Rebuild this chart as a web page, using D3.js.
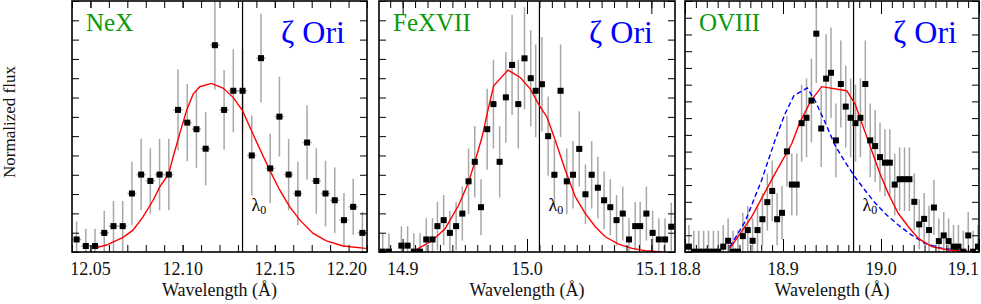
<!DOCTYPE html>
<html>
<head>
<meta charset="utf-8">
<script src="https://cdn.jsdelivr.net/npm/d3@7"></script>
<style>
  html, body { margin: 0; padding: 0; background: #fff; }
  svg text { font-family: "Liberation Serif", "DejaVu Serif", "Times New Roman", serif; }
</style>
</head>
<body>
<svg id="chart" width="981" height="304"></svg>
<script>
// ---- NeX panel ----
const neWave = [12.0425, 12.0475, 12.0525, 12.0575, 12.0625, 12.0675, 12.0725, 12.0775, 12.0825, 12.0875,
  12.0925, 12.0975, 12.1025, 12.1075, 12.1125, 12.1175, 12.1225, 12.1275, 12.1325, 12.1375,
  12.1425, 12.1475, 12.1525, 12.1575, 12.1625, 12.1675, 12.1725, 12.1775, 12.1825, 12.1875,
  12.1925, 12.1975];
const neFlux = [0.65, 0.31, 0.31, 0.99, 1.34, 1.34, 3.03, 4.01, 3.68, 4.01,
  4.01, 7.36, 6.70, 6.36, 5.35, 10.71, 7.36, 8.35, 8.35, 5.00,
  10.04, 4.33, 7.01, 4.01, 3.03, 5.67, 3.68, 3.03, 2.68, 1.65,
  2.34, 0.99];
const neErr = [0.93, 0.9, 0.9, 1.14, 1.3, 1.3, 1.64, 1.85, 1.7, 1.85,
  1.85, 2.1, 2.0, 2.0, 1.9, 2.3, 2.07, 2.15, 2.15, 2.07,
  2.3, 1.8, 2.07, 1.85, 1.64, 1.93, 1.7, 1.7, 1.7, 1.4,
  1.45, 1.1];
const neModelWave = [12.0518, 12.0587, 12.0677, 12.0731, 12.0785, 12.0840, 12.0876, 12.0925, 12.0948, 12.0984,
  12.1021, 12.1057, 12.1093, 12.1156, 12.1219, 12.1274, 12.1325, 12.1373, 12.1418, 12.1473,
  12.1527, 12.1581, 12.1636, 12.1708, 12.1780, 12.1870, 12.1994];
const neModelFlux = [0.19, 0.36, 0.76, 1.13, 1.82, 2.68, 3.37, 4.06, 4.91, 6.12,
  7.32, 8.18, 8.56, 8.73, 8.49, 8.01, 7.32, 6.29, 5.35, 4.23,
  3.20, 2.34, 1.65, 0.96, 0.58, 0.31, 0.19];
const neXTicks = [12.05, 12.10, 12.15, 12.20];
const neXLabels = ['12.05', '12.10', '12.15', '12.20'];

// ---- FeXVII panel ----
const feWave = [14.884, 14.889, 14.899, 14.904, 14.909, 14.914, 14.919, 14.924, 14.928, 14.933,
  14.938, 14.943, 14.948, 14.953, 14.958, 14.963, 14.968, 14.973, 14.978, 14.983,
  14.988, 14.993, 14.998, 15.003, 15.007, 15.012, 15.017, 15.022, 15.027, 15.032,
  15.037, 15.042, 15.047, 15.052, 15.057, 15.062, 15.067, 15.072, 15.077, 15.082,
  15.087, 15.091, 15.096, 15.101, 15.106, 15.111, 15.116];
const feFlux = [0.02, 0.02, 0.33, 0.33, 0.02, 0.02, 0.65, 0.65, 1.34, 1.65,
  0.99, 1.34, 1.99, 3.66, 4.67, 2.32, 6.36, 7.66, 4.67, 8.01,
  9.69, 7.66, 10.03, 9.0, 8.35, 8.69, 6.0, 4.0, 8.35, 3.66,
  4.0, 5.34, 2.99, 4.0, 3.33, 2.68, 2.32, 1.65, 1.99, 0.65,
  1.34, 1.34, 1.99, 0.99, 0.65, 0.65, 1.31];
const feErr = [0.95, 0.95, 1.0, 1.0, 0.95, 0.95, 1.1, 1.1, 1.25, 1.3,
  1.15, 1.25, 1.4, 1.7, 1.85, 1.45, 2.1, 2.3, 1.85, 2.35,
  2.6, 2.3, 2.65, 2.5, 2.4, 2.45, 2.05, 1.75, 2.4, 1.7,
  1.75, 1.95, 1.55, 1.75, 1.6, 1.5, 1.45, 1.3, 1.4, 1.1,
  1.25, 1.25, 1.4, 1.15, 1.1, 1.1, 1.25];
const feModelWave = [14.9102, 14.9236, 14.9343, 14.9450, 14.9531, 14.9584, 14.9638, 14.9691, 14.9732, 14.9847,
  14.9946, 15.0027, 15.0093, 15.0161, 15.0228, 15.0308, 15.0389, 15.0469, 15.0549, 15.0629,
  15.0736, 15.0844, 15.0951, 15.1085];
const feModelFlux = [0.10, 0.58, 1.22, 2.42, 3.62, 4.74, 5.94, 7.49, 8.61, 9.42,
  9.04, 8.44, 7.66, 6.98, 5.77, 4.23, 2.85, 1.99, 1.31, 0.79,
  0.41, 0.19, 0.07, 0.0];
const feXTicks = [14.9, 15.0, 15.1];
const feXLabels = ['14.9', '15.0', '15.1'];

// ---- OVIII panel ----
const oxWave = [18.804, 18.809, 18.814, 18.819, 18.824, 18.829, 18.834, 18.839, 18.844, 18.849,
  18.854, 18.859, 18.864, 18.869, 18.874, 18.879, 18.884, 18.889, 18.894, 18.899,
  18.904, 18.909, 18.914, 18.919, 18.924, 18.929, 18.934, 18.939, 18.944, 18.949,
  18.954, 18.959, 18.964, 18.969, 18.974, 18.979, 18.984, 18.989, 18.994, 18.999,
  19.004, 19.009, 19.014, 19.019, 19.024, 19.029, 19.034, 19.039, 19.044, 19.049,
  19.054, 19.059, 19.064, 19.069, 19.074, 19.079, 19.084, 19.089, 19.094, 19.099];
const oxFlux = [0.32, 0.02, 0.02, 0.02, 0.02, 0.02, 0.02, 0.32, 0.67, 0.02,
  0.02, 0.95, 1.31, 0.67, 1.31, 1.96, 2.98, 3.65, 1.96, 2.34,
  6.01, 4.03, 4.03, 7.70, 8.02, 9.05, 13.05, 7.38, 10.36, 10.71,
  6.67, 10.04, 8.69, 8.02, 7.70, 8.02, 10.04, 6.67, 6.33, 5.67,
  5.34, 5.34, 4.03, 4.35, 4.35, 4.35, 3.0, 1.65, 1.98, 1.31,
  2.66, 0.65, 0.99, 0.65, 0.32, 0.32, 0.02, 0.99, 0.02, 0.32];
const oxErr = [1.3, 1.25, 1.25, 1.25, 1.25, 1.25, 1.25, 1.3, 1.35, 1.25,
  1.25, 1.4, 1.45, 1.35, 1.45, 1.55, 1.7, 1.8, 1.55, 1.6,
  2.1, 1.85, 1.85, 2.3, 2.35, 2.5, 2.95, 2.3, 2.65, 2.7,
  2.2, 2.6, 2.45, 2.35, 2.3, 2.35, 2.6, 2.2, 2.15, 2.05,
  2.0, 2.0, 1.85, 1.9, 1.9, 1.9, 1.7, 1.5, 1.55, 1.45,
  1.65, 1.35, 1.4, 1.35, 1.3, 1.3, 1.25, 1.4, 1.25, 1.3];
const oxModelWave = [18.8459, 18.8680, 18.8918, 18.9089, 18.9173, 18.9286, 18.9395, 18.9650, 18.9735, 18.9820,
  18.9905, 18.9990, 19.0075, 19.0177, 19.0279, 19.0381, 19.0517, 19.0687, 19.0993];
const oxModelFlux = [0.22, 2.10, 4.68, 6.47, 7.76, 9.05, 9.88, 9.64, 8.85, 7.46,
  6.07, 4.68, 3.49, 2.30, 1.51, 0.81, 0.32, 0.12, 0.0];
const oxAltWave = [18.8459, 18.8612, 18.8782, 18.8918, 18.9020, 18.9112, 18.9248, 18.9327, 18.9429, 18.9531,
  18.9633, 18.9735, 18.9837, 18.9939, 19.0041, 19.0177, 19.0313, 19.0449, 19.0619, 19.0823];
const oxAltFlux = [0.32, 1.80, 4.29, 6.67, 8.25, 9.35, 9.80, 9.05, 7.76, 6.37,
  5.38, 4.48, 3.69, 2.94, 2.30, 1.61, 1.01, 0.52, 0.22, 0.08];
const oxXTicks = [18.8, 18.9, 19.0, 19.1];
const oxXLabels = ['18.8', '18.9', '19.0', '19.1'];

const ionNames = ['NeX', 'FeXVII', 'OVIII'];
const restWave = [12.1325, 15.010, 18.972];
const starName = 'ζ Ori';

// layout
const plotTop = 1, plotBottom = 252;
const binHalf = 0.0025;

const panels = [
  {ion: ionNames[0], wave: neWave, flux: neFlux, err: neErr, lam0: restWave[0],
   models: [{w: neModelWave, f: neModelFlux, color: '#ff0000', dash: null}],
   xDomain: [12.04, 12.20], yMax: 13, left: 72, right: 367,
   ticks: neXTicks, labels: neXLabels, minor: d3.range(12.04, 12.2001, 0.01), majorLen: 7},
  {ion: ionNames[1], wave: feWave, flux: feFlux, err: feErr, lam0: restWave[1],
   models: [{w: feModelWave, f: feModelFlux, color: '#ff0000', dash: null}],
   xDomain: [14.881, 15.119], yMax: 13, left: 379, right: 675,
   ticks: feXTicks, labels: feXLabels, minor: d3.range(14.89, 15.1101, 0.01), majorLen: 13},
  {ion: ionNames[2], wave: oxWave, flux: oxFlux, err: oxErr, lam0: restWave[2],
   models: [{w: oxAltWave, f: oxAltFlux, color: '#0000ff', dash: '5,3'},
            {w: oxModelWave, f: oxModelFlux, color: '#ff0000', dash: null}],
   xDomain: [18.8, 19.1], yMax: 15, left: 685, right: 979,
   ticks: oxXTicks, labels: oxXLabels, minor: d3.range(0, 28).map(j => 18.8 + j * 0.1 / 9), majorLen: 13}
];

const svg = d3.select('#chart');
const minorLen = 7;

panels.forEach((p, pi) => {
  const x = d3.scaleLinear().domain(p.xDomain).range([p.left, p.right]);
  const y = d3.scaleLinear().domain([0, p.yMax]).range([plotBottom, plotTop]);

  const clipId = 'clip' + pi;
  svg.append('clipPath').attr('id', clipId)
    .append('rect')
    .attr('x', p.left).attr('y', plotTop)
    .attr('width', p.right - p.left).attr('height', plotBottom - plotTop);

  const g = svg.append('g').attr('clip-path', `url(#${clipId})`);

  const pts = p.wave.map((w, i) => ({w: w, f: p.flux[i], e: p.err[i]}));

  // error bars
  g.selectAll('.ebar').data(pts).enter().append('line')
    .attr('x1', d => x(d.w)).attr('x2', d => x(d.w))
    .attr('y1', d => y(d.f - d.e)).attr('y2', d => y(d.f + d.e))
    .attr('stroke', '#a8a8a8').attr('stroke-width', 1.5);
  g.selectAll('.hbar').data(pts).enter().append('line')
    .attr('x1', d => x(d.w - binHalf)).attr('x2', d => x(d.w + binHalf))
    .attr('y1', d => y(d.f)).attr('y2', d => y(d.f))
    .attr('stroke', '#a8a8a8').attr('stroke-width', 1.5);

  // rest wavelength line
  g.append('line')
    .attr('x1', x(p.lam0)).attr('x2', x(p.lam0))
    .attr('y1', plotTop).attr('y2', plotBottom)
    .attr('stroke', '#000').attr('stroke-width', 1.2);

  // model curves
  const line = d3.line().x(d => x(d[0])).y(d => y(d[1]));
  p.models.forEach(m => {
    g.append('path')
      .datum(m.w.map((w, i) => [w, m.f[i]]))
      .attr('d', line)
      .attr('fill', 'none')
      .attr('stroke', m.color)
      .attr('stroke-width', 1.4)
      .attr('stroke-dasharray', m.dash);
  });

  // data squares
  g.selectAll('.pt').data(pts).enter().append('rect')
    .attr('x', d => x(d.w) - 3).attr('y', d => y(d.f) - 3)
    .attr('width', 6).attr('height', 6)
    .attr('fill', '#000');

  // ticks: x on top and bottom, y on left and right, all pointing inward
  const xMinor = d3.axisBottom(x).tickValues(p.minor).tickSize(-minorLen).tickFormat('');
  const xMajor = d3.axisBottom(x).tickValues(p.ticks).tickSize(-p.majorLen).tickFormat('');
  const xMinorTop = d3.axisTop(x).tickValues(p.minor).tickSize(-minorLen).tickFormat('');
  const xMajorTop = d3.axisTop(x).tickValues(p.ticks).tickSize(-p.majorLen).tickFormat('');
  const yT = d3.range(0, p.yMax + 1);
  const yLeft = d3.axisLeft(y).tickValues(yT).tickSize(-minorLen).tickFormat('');
  const yRight = d3.axisRight(y).tickValues(yT).tickSize(-minorLen).tickFormat('');

  [[xMinor, `translate(0,${plotBottom})`], [xMajor, `translate(0,${plotBottom})`],
   [xMinorTop, `translate(0,${plotTop})`], [xMajorTop, `translate(0,${plotTop})`],
   [yLeft, `translate(${p.left},0)`], [yRight, `translate(${p.right},0)`]].forEach(([ax, tr]) => {
    const a = svg.append('g').attr('transform', tr).call(ax);
    a.select('.domain').remove();
    a.selectAll('line').attr('stroke', '#000').attr('stroke-width', 1);
  });

  // frame
  svg.append('rect')
    .attr('x', p.left).attr('y', plotTop)
    .attr('width', p.right - p.left).attr('height', plotBottom - plotTop)
    .attr('fill', 'none').attr('stroke', '#000').attr('stroke-width', 1.6);

  // x tick labels (the last one is pulled inside the frame)
  p.ticks.forEach((v, i) => {
    const t = svg.append('text')
      .attr('x', x(v)).attr('y', 275)
      .attr('text-anchor', 'middle')
      .attr('font-size', 18)
      .attr('fill', '#111')
      .text(p.labels[i]);
    const w = t.node().getComputedTextLength();
    if (x(v) + w / 2 > p.right + 1) {
      t.attr('text-anchor', 'end').attr('x', p.right);
    }
  });

  svg.append('text')
    .attr('x', (p.left + p.right) / 2).attr('y', 296)
    .attr('text-anchor', 'middle')
    .attr('font-size', 18)
    .attr('fill', '#111')
    .text('Wavelength (Å)');

  // ion name and star
  svg.append('text')
    .attr('x', p.left + 14).attr('y', 31)
    .attr('font-size', 25)
    .attr('fill', '#0c9a0c')
    .text(p.ion);
  svg.append('text')
    .attr('x', p.right - 22).attr('y', 43)
    .attr('text-anchor', 'end')
    .attr('font-size', 32)
    .attr('fill', '#0000ff')
    .text(starName);

  // lambda_0 label
  const lt = svg.append('text')
    .attr('x', x(p.lam0) + 9).attr('y', 211)
    .attr('font-size', 18)
    .attr('fill', '#000');
  lt.append('tspan').text('λ');
  lt.append('tspan').attr('font-size', 12).attr('dy', 3).text('0');
});

svg.append('text')
  .attr('transform', `translate(15,122) rotate(-90)`)
  .attr('text-anchor', 'middle')
  .attr('font-size', 17)
  .attr('fill', '#111')
  .text('Normalized flux');
</script>
</body>
</html>
